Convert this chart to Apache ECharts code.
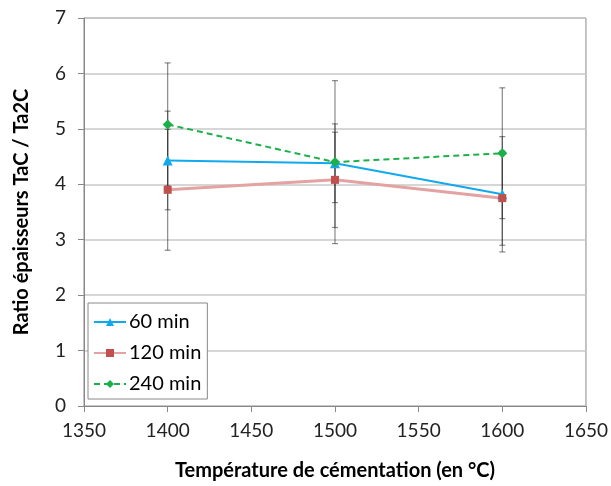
<!DOCTYPE html>
<html><head><meta charset="utf-8">
<script src="https://cdn.jsdelivr.net/npm/echarts@6/dist/echarts.min.js"></script>
<style>html,body{margin:0;padding:0;background:#fff}#c{width:611px;height:486px}</style>
</head><body><div id="c"></div>
<script>
var temps = [1400, 1500, 1600];
var names = ['60 min', '120 min', '240 min'];
var v60 = [4.43, 4.38, 3.82];
var v120 = [3.90, 4.08, 3.75];
var v240 = [5.08, 4.40, 4.56];
var e60 = [0.89, 0.71, 1.04];
var e120 = [1.09, 0.86, 0.85];
var e240 = [1.11, 1.47, 1.18];
var xTicks = [1350, 1400, 1450, 1500, 1550, 1600, 1650];
var yTicks = [0, 1, 2, 3, 4, 5, 6, 7];

var font = 'Lato, "Open Sans", sans-serif';
function pts(v){ return temps.map(function(t,i){return [t, v[i]];}); }
function errData(v,e){ return temps.map(function(t,i){return [t, v[i]-e[i], v[i]+e[i]];}); }
function errSeries(v,e){
  return {
    type:'custom', z:1, silent:true,
    data: errData(v,e),
    renderItem: function(params, api){
      var lo = api.coord([api.value(0), api.value(1)]);
      var hi = api.coord([api.value(0), api.value(2)]);
      var w = 3;
      var st = {stroke:'rgba(40,40,40,0.55)', lineWidth:1.2};
      return {type:'group', children:[
        {type:'line', shape:{x1:lo[0],y1:lo[1],x2:hi[0],y2:hi[1]}, style:st},
        {type:'line', shape:{x1:lo[0]-w,y1:lo[1],x2:lo[0]+w,y2:lo[1]}, style:st},
        {type:'line', shape:{x1:hi[0]-w,y1:hi[1],x2:hi[0]+w,y2:hi[1]}, style:st}
      ]};
    }
  };
}
var chart = echarts.init(document.getElementById('c'));
chart.setOption({
  animation:false,
  backgroundColor:'#fff',
  grid:{left:84, right:23, top:18, bottom:78, show:true, borderColor:'#888', borderWidth:1},
  xAxis:{type:'value', min:xTicks[0], max:xTicks[xTicks.length-1], interval:50,
    name:'Température de cémentation (en °C)', nameLocation:'middle', nameGap:55,
    nameTextStyle:{fontFamily:font, fontWeight:'bold', fontSize:20, color:'#000'},
    axisLine:{lineStyle:{color:'#888'}}, axisTick:{show:true, inside:false, length:6, lineStyle:{color:'#888'}},
    axisLabel:{fontFamily:font, fontSize:19, color:'#222', margin:15, formatter:function(v){return String(v);}},
    splitLine:{show:false}},
  yAxis:{type:'value', min:yTicks[0], max:yTicks[yTicks.length-1], interval:1,
    name:'Ratio épaisseurs TaC / Ta2C', nameLocation:'middle', nameGap:52,
    nameTextStyle:{fontFamily:font, fontWeight:'bold', fontSize:20, color:'#000'},
    axisLine:{show:true, lineStyle:{color:'#888'}}, axisTick:{show:true, length:6, lineStyle:{color:'#888'}},
    axisLabel:{fontFamily:font, fontSize:19, color:'#222', margin:18},
    splitLine:{show:true, lineStyle:{color:'#c8c8c8', width:1.5}}},
  legend:{orient:'vertical', left:88, top:303, data:names, itemWidth:32, itemHeight:10, itemGap:11,
    padding:[9,6,5,5], borderColor:'#888', borderWidth:1, backgroundColor:'#fff',
    textStyle:{fontFamily:font, fontSize:20, color:'#000', padding:[0,0,0,-2]}},
  series:[
    errSeries(v60,e60), errSeries(v120,e120), errSeries(v240,e240),
    {name:names[0], type:'line', z:3, data:pts(v60), symbol:'triangle', symbolSize:10,
      lineStyle:{color:'#11a9ee', width:2}, itemStyle:{color:'#11a9ee'}},
    {name:names[1], type:'line', z:3, data:pts(v120), symbol:'rect', symbolSize:8,
      lineStyle:{color:'#e3a3a2', width:3}, itemStyle:{color:'#c0504d'}},
    {name:names[2], type:'line', z:4, data:pts(v240), symbol:'diamond', symbolSize:10,
      lineStyle:{color:'#1db04a', width:2, type:[6,4]}, itemStyle:{color:'#1db04a'}}
  ]
});
</script></body></html>
